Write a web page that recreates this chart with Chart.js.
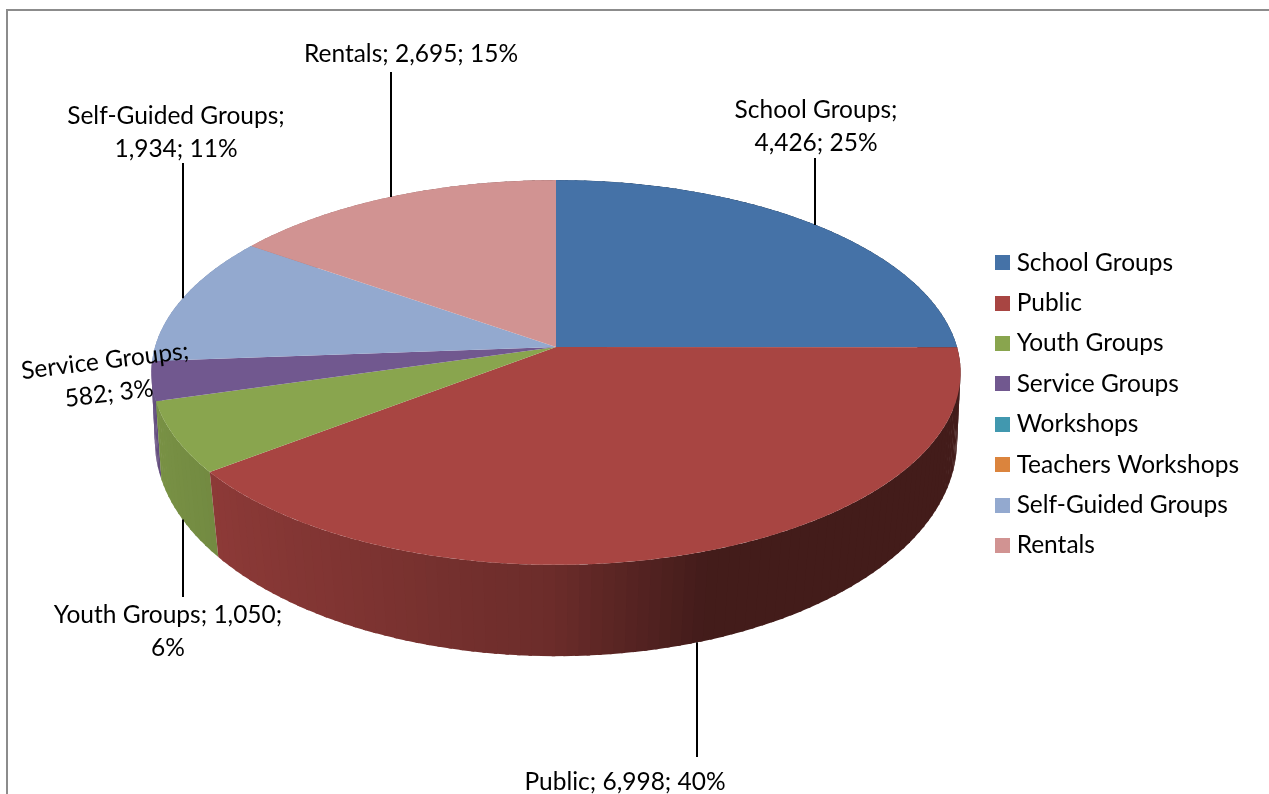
<!DOCTYPE html>
<html>
<head>
<meta charset="utf-8">
<title>Visitors by group</title>
<script src="https://cdn.jsdelivr.net/npm/chart.js@4"></script>
<style>
  html, body { margin: 0; background: #fff; overflow: hidden; }
  #frame { position: absolute; left: 6px; top: 9px; width: 1300px; height: 900px; border: 2px solid #8c8c8c; }
  #myCanvas { position: absolute; left: 0; top: 0; }
</style>
</head>
<body>
<div id="frame"></div>
<canvas id="myCanvas" width="1269" height="794"></canvas>
<script>
const categories = ["School Groups", "Public", "Youth Groups", "Service Groups", "Workshops", "Teachers Workshops", "Self-Guided Groups", "Rentals"];
const visitors = [4426, 6998, 1050, 582, 0, 0, 1934, 2695];
const percents = [25, 40, 6, 3, 0, 0, 11, 15];
const colors = ["#4572A7", "#A84542", "#89A54E", "#71588F", "#4198AF", "#DB843D", "#93A9CF", "#D19392"];

const FONT = '24.5px Lato';

// perspective of the two discs
const topDisc = {cx: 556, cy: 347, rx: 401, ry: 189, k: 0.1325};
const lowDisc = {cx: 556, cy: 419, rx: 399, ry: 213, k: 0.102};

// where each data label goes; leaderTo is where its leader line ends
const labelSpots = [
  {x: 816, y: 110, wrap: 1, leaderTo: 158},
  {x: 625, y: 782, wrap: 9, leaderTo: 757},
  {x: 168, y: 615, wrap: 2, leaderTo: 597},
  {x: 105, y: 361, wrap: 1, dx: 4, rot: -7},
  null,
  null,
  {x: 176, y: 116, wrap: 1, leaderTo: 163},
  {x: 411, y: 54, wrap: 9, leaderTo: 72}
];

function project(d, a) {
  const w = 1 / (1 - d.k * Math.sin(a));
  return {x: d.cx + d.rx * Math.cos(a) * w, y: d.cy + d.ry * Math.sin(a) * w};
}

function shade(hex, f) {
  const n = parseInt(hex.slice(1), 16);
  return `rgb(${Math.round((n >> 16) * f)},${Math.round(((n >> 8) & 255) * f)},${Math.round((n & 255) * f)})`;
}

// wall gets darker towards the right, flat dark past the front
function wallLight(a) {
  const u = Math.cos(a);
  return u < 0 ? 0.64 - 0.25 * u : Math.max(0.4, 0.64 - 0.7 * u);
}

function labelLines(i) {
  const parts = [categories[i] + ";", visitors[i].toLocaleString("en-US") + ";", percents[i] + "%"];
  const wrap = labelSpots[i].wrap;
  return [parts.slice(0, wrap).join(" "), parts.slice(wrap).join(" ")].filter(s => s);
}

const pie3d = {
  id: "pie3d",
  beforeDatasetsDraw(chart) {
    const ctx = chart.ctx;
    const arcs = chart.getDatasetMeta(0).data;
    const step = Math.PI / 120;
    const midOf = arc => (arc.startAngle + arc.endAngle) / 2;
    ctx.save();

    // side wall, back slices first
    const backToFront = arcs.map((arc, i) => i).sort((p, q) => Math.sin(midOf(arcs[p])) - Math.sin(midOf(arcs[q])));
    backToFront.forEach(i => {
      const arc = arcs[i];
      if (!visitors[i]) return;
      for (let a = arc.startAngle; a < arc.endAngle; a += step) {
        const b = Math.min(a + step * 1.3, arc.endAngle);
        const p1 = project(topDisc, a), p2 = project(topDisc, b);
        const p3 = project(lowDisc, b), p4 = project(lowDisc, a);
        ctx.fillStyle = shade(colors[i], wallLight(a));
        ctx.beginPath();
        ctx.moveTo(p1.x, p1.y);
        ctx.lineTo(p2.x, p2.y);
        ctx.lineTo(p3.x, p3.y);
        ctx.lineTo(p4.x, p4.y);
        ctx.closePath();
        ctx.fill();
      }
    });

    // top face
    arcs.forEach((arc, i) => {
      if (!visitors[i]) return;
      ctx.fillStyle = colors[i];
      ctx.beginPath();
      ctx.moveTo(topDisc.cx, topDisc.cy);
      for (let a = arc.startAngle; a < arc.endAngle; a += step / 2) {
        const p = project(topDisc, a);
        ctx.lineTo(p.x, p.y);
      }
      const end = project(topDisc, arc.endAngle);
      ctx.lineTo(end.x, end.y);
      ctx.closePath();
      ctx.fill();
    });

    // leader lines
    ctx.strokeStyle = "#000";
    ctx.lineWidth = 2;
    arcs.forEach((arc, i) => {
      const spot = labelSpots[i];
      if (!spot || spot.leaderTo === undefined) return;
      const mid = midOf(arc);
      const p = project(Math.sin(mid) > 0 ? lowDisc : topDisc, mid);
      ctx.beginPath();
      ctx.moveTo(Math.round(p.x), p.y);
      ctx.lineTo(Math.round(p.x), spot.leaderTo);
      ctx.stroke();
    });

    // data labels
    ctx.fillStyle = "#000";
    ctx.font = FONT;
    ctx.textAlign = "center";
    ctx.textBaseline = "middle";
    labelSpots.forEach((spot, i) => {
      if (!spot) return;
      labelLines(i).forEach((line, n) => {
        ctx.save();
        ctx.translate(spot.x + (spot.dx || 0) * n, spot.y + 32.8 * n);
        if (spot.rot) ctx.rotate(spot.rot * Math.PI / 180);
        ctx.fillText(line, 0, 0);
        ctx.restore();
      });
    });

    ctx.restore();
    return false;
  }
};

// legend swatch as a small canvas, so the gap to the text can be tighter than the default
function swatch(color) {
  const c = document.createElement("canvas");
  c.width = 15;
  c.height = 15;
  const g = c.getContext("2d");
  g.fillStyle = color;
  g.fillRect(0, 0, 15, 15);
  return c;
}

new Chart(document.getElementById("myCanvas"), {
  type: "pie",
  data: {
    labels: categories,
    datasets: [{data: visitors, backgroundColor: colors}]
  },
  options: {
    responsive: false,
    animation: false,
    layout: {padding: {top: 14, right: 20}},
    plugins: {
      tooltip: {enabled: false},
      legend: {
        position: "right",
        labels: {
          font: {family: "Lato", size: 24.5},
          color: "#000",
          padding: 15.9,
          usePointStyle: true,
          pointStyleWidth: 4.5,
          boxHeight: 15,
          generateLabels: chart => categories.map((name, i) => ({
            text: name,
            pointStyle: swatch(colors[i]),
            index: i
          }))
        }
      }
    }
  },
  plugins: [pie3d]
});
</script>
</body>
</html>
